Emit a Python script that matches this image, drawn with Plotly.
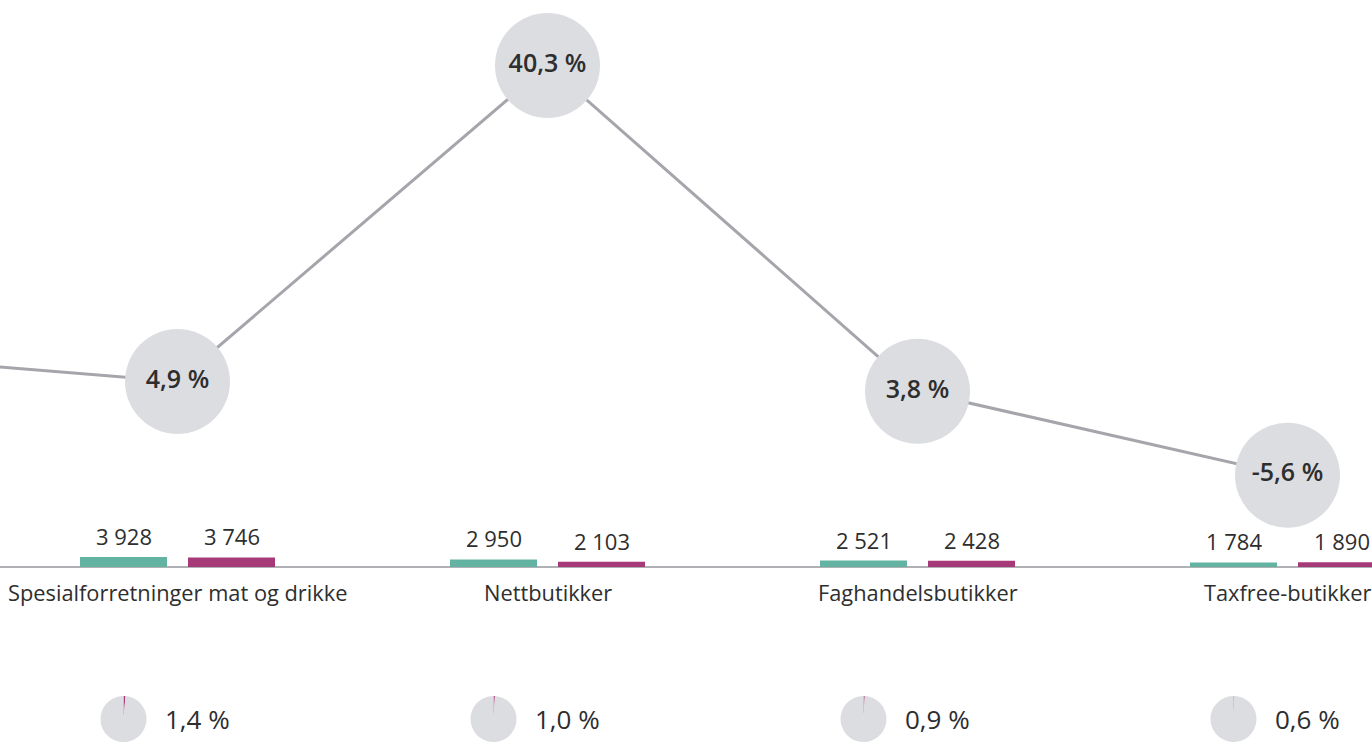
import plotly.graph_objects as go

# ---- data ----
categories = ["", "Spesialforretninger mat og drikke", "Nettbutikker", "Faghandelsbutikker", "Taxfree-butikker"]
series_a = [None, 3928, 2950, 2521, 1784]      # teal bars
series_b = [None, 3746, 2103, 2428, 1890]      # magenta bars
growth = [8.3, 4.9, 40.3, 3.8, -5.6]           # % change (line with circles)
share = [None, 1.4, 1.0, 0.9, 0.6]             # share (small pies)

# ---- styling ----
W, H = 1372, 742
TEAL = "#62b3a1"
MAGENTA = "#a63a78"
CIRCLE = "#dcdde1"
LINE = "#a5a6ab"
AXIS = "#b0b1b5"
TEXT = "#2e2e2e"
FONT = "Open Sans"

UNIT = 370.0                      # px per category
X_RANGE = [1 - 177.5 / UNIT, 1 + (W - 177.5) / UNIT]
BAR_W = 87 / UNIT
OFF_A = -97.5 / UNIT
OFF_B = 10.5 / UNIT

Y1_RANGE = [-68735, 222700]
Y2_RANGE = [-35.48, 47.63]

idx = list(range(len(categories)))


def fmt_int(v):
    return f"{v:,}".replace(",", " ")


def fmt_pct(v):
    return f"{v:.1f}".replace(".", ",") + " %"


def x_to_paper(x):
    return (x - X_RANGE[0]) / (X_RANGE[1] - X_RANGE[0])


fig = go.Figure()

fig.add_trace(go.Bar(x=idx, y=series_a, width=BAR_W, offset=OFF_A,
                     marker=dict(color=TEAL, line=dict(width=0)),
                     hoverinfo="skip", showlegend=False))
fig.add_trace(go.Bar(x=idx, y=series_b, width=BAR_W, offset=OFF_B,
                     marker=dict(color=MAGENTA, line=dict(width=0)),
                     hoverinfo="skip", showlegend=False))

circle_text = [fmt_pct(v) if c else "" for v, c in zip(growth, categories)]
fig.add_trace(go.Scatter(
    x=idx, y=growth, yaxis="y2", mode="lines+markers+text",
    text=circle_text, textposition="middle center",
    textfont=dict(family=FONT, size=25, color=TEXT, weight=600),
    line=dict(color=LINE, width=3),
    marker=dict(size=105, color=CIRCLE, line=dict(width=0)),
    hoverinfo="skip", showlegend=False, cliponaxis=False))

annotations = []
for i, (c, a, b) in enumerate(zip(categories, series_a, series_b)):
    if not c:
        continue
    for val, off in ((a, OFF_A), (b, OFF_B)):
        annotations.append(dict(
            x=i + off + BAR_W / 2, y=val, xref="x", yref="y",
            text=fmt_int(val), showarrow=False, yanchor="middle", yshift=21,
            font=dict(family=FONT, size=22, color=TEXT)))
    annotations.append(dict(
        x=i, y=0, xref="x", yref="y", text=c, showarrow=False,
        yanchor="middle", yshift=-25,
        font=dict(family=FONT, size=21.8, color=TEXT)))

PIE_D = 46
for i, s in enumerate(share):
    if s is None:
        continue
    cx = x_to_paper(i + OFF_A + BAR_W / 2)
    fig.add_trace(go.Pie(
        values=[s, 100 - s], sort=False, direction="clockwise", rotation=0,
        marker=dict(colors=[MAGENTA, CIRCLE], line=dict(width=0)),
        textinfo="none", hoverinfo="skip", showlegend=False,
        domain=dict(x=[cx - PIE_D / 2 / W, cx + PIE_D / 2 / W], y=[0, PIE_D / H])))
    annotations.append(dict(
        x=i - 14.5 / UNIT, y=PIE_D / 2 / H, xref="x", yref="paper",
        text=fmt_pct(s), showarrow=False, xanchor="left", yanchor="middle",
        font=dict(family=FONT, size=26, color=TEXT)))

fig.update_layout(
    width=W, height=H, margin=dict(l=0, r=0, t=0, b=0),
    paper_bgcolor="white", plot_bgcolor="white",
    barmode="overlay",
    xaxis=dict(range=X_RANGE, visible=False, fixedrange=True),
    yaxis=dict(range=Y1_RANGE, showgrid=False, showticklabels=False, ticks="",
               zeroline=True, zerolinecolor=AXIS, zerolinewidth=2, fixedrange=True),
    yaxis2=dict(range=Y2_RANGE, overlaying="y", visible=False, fixedrange=True),
    annotations=annotations,
    font=dict(family=FONT),
)

fig.write_html("out.html", config={"displayModeBar": False, "staticPlot": True},
               post_script="document.body.style.margin='0';document.body.style.overflow='hidden';")
